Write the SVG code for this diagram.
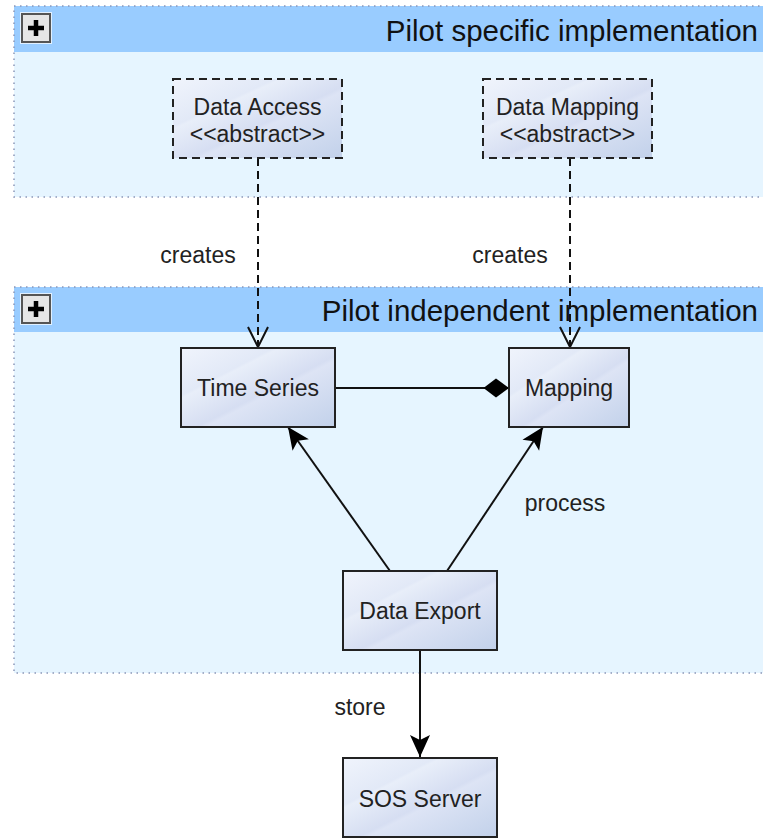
<svg xmlns="http://www.w3.org/2000/svg" width="763" height="838" viewBox="0 0 763 838">
  <style>
    .hdr { fill: #99ccff; }
    .body { fill: #e6f5ff; }
    .frame { fill: none; stroke: #8a96b8; stroke-width: 1.5; stroke-dasharray: 1.5 4.5; }
    .title { font-family: "Liberation Sans", Arial, sans-serif; font-size: 29.5px; fill: #111; text-anchor: end; }
    .box { fill: url(#nodeFill); stroke: #222; stroke-width: 2; }
    .abox { fill: url(#nodeFill); stroke: #222; stroke-width: 2; stroke-dasharray: 8 5; }
    .lbl { font-family: "Liberation Sans", Arial, sans-serif; font-size: 23px; fill: #222; text-anchor: middle; }
    .edge { fill: none; stroke: #111; stroke-width: 2; }
    .dash { fill: none; stroke: #111; stroke-width: 2; stroke-dasharray: 8 5; }
    .tog { fill: #e6e6e6; stroke: #555; stroke-width: 2; }
  </style>
  <defs>
    <linearGradient id="nodeFill" x1="0" y1="0" x2="1" y2="1">
      <stop offset="0" stop-color="#f0f4fc"/>
      <stop offset="0.3" stop-color="#e2e9f7"/>
      <stop offset="0.32" stop-color="#e8eef9"/>
      <stop offset="0.55" stop-color="#d6def2"/>
      <stop offset="0.58" stop-color="#dde4f5"/>
      <stop offset="1" stop-color="#c2d1ea"/>
    </linearGradient>
    <marker id="open" viewBox="0 0 24 24" refX="22" refY="12" markerWidth="24" markerHeight="24" markerUnits="userSpaceOnUse" orient="auto">
      <path d="M2,2 L22,12 L2,22" fill="none" stroke="#111" stroke-width="2"/>
    </marker>
    <marker id="solid" viewBox="0 0 24 22" refX="23" refY="11" markerWidth="24" markerHeight="22" markerUnits="userSpaceOnUse" orient="auto">
      <path d="M23,11 L1,1 L6,11 L1,21 Z" fill="#000"/>
    </marker>
    <marker id="diamond" viewBox="0 0 27 20" refX="26" refY="10" markerWidth="27" markerHeight="20" markerUnits="userSpaceOnUse" orient="auto">
      <path d="M0.5,10 L13,0.5 L26,10 L13,19.5 Z" fill="#000"/>
    </marker>
  </defs>

  <rect width="763" height="838" fill="#fff"/>

  <!-- Pilot specific package -->
  <g id="pkg-specific">
    <rect class="body" x="14" y="6" width="760" height="191"/>
    <rect class="hdr" x="14" y="6" width="760" height="46"/>
    <rect class="frame" x="14" y="6" width="760" height="191"/>
    <rect x="20" y="12" width="32" height="32" fill="#fff" opacity="0.7"/>
    <rect class="tog" x="22" y="14" width="28" height="28"/>
    <path d="M36,20 V36 M28,28 H44" stroke="#000" stroke-width="4.5"/>
    <text class="title" x="758" y="41">Pilot specific implementation</text>
  </g>

  <!-- Pilot independent package -->
  <g id="pkg-independent">
    <rect class="body" x="14" y="287" width="760" height="386"/>
    <rect class="hdr" x="14" y="287" width="760" height="45"/>
    <rect class="frame" x="14" y="287" width="760" height="386"/>
    <rect x="20" y="293" width="32" height="32" fill="#fff" opacity="0.7"/>
    <rect class="tog" x="22" y="295" width="28" height="28"/>
    <path d="M36,301 V317 M28,309 H44" stroke="#000" stroke-width="4.5"/>
    <text class="title" x="758" y="321">Pilot independent implementation</text>
  </g>

  <!-- Connectors -->
  <g id="connectors">
    <line class="dash" x1="258" y1="158" x2="258" y2="347" marker-end="url(#open)"/>
    <line class="dash" x1="570" y1="158" x2="570" y2="347" marker-end="url(#open)"/>
    <line class="edge" x1="335" y1="388" x2="509" y2="388" marker-end="url(#diamond)"/>
    <line class="edge" x1="390" y1="571" x2="288" y2="427" marker-end="url(#solid)"/>
    <line class="edge" x1="447" y1="571" x2="543" y2="427" marker-end="url(#solid)"/>
    <line class="edge" x1="420" y1="650" x2="420" y2="757" marker-end="url(#solid)"/>
    <text class="lbl" x="198" y="263">creates</text>
    <text class="lbl" x="510" y="263">creates</text>
    <text class="lbl" x="565" y="511">process</text>
    <text class="lbl" x="360" y="715">store</text>
  </g>

  <!-- Nodes -->
  <g id="data-access">
    <rect class="abox" x="173" y="79" width="169" height="79"/>
    <text class="lbl" x="257.5" y="115">Data Access</text>
    <text class="lbl" x="257.5" y="142">&lt;&lt;abstract&gt;&gt;</text>
  </g>
  <g id="data-mapping">
    <rect class="abox" x="483" y="79" width="169" height="79"/>
    <text class="lbl" x="567.5" y="115">Data Mapping</text>
    <text class="lbl" x="567.5" y="142">&lt;&lt;abstract&gt;&gt;</text>
  </g>
  <g id="time-series">
    <rect class="box" x="181" y="348" width="154" height="79"/>
    <text class="lbl" x="258" y="396">Time Series</text>
  </g>
  <g id="mapping">
    <rect class="box" x="509" y="348" width="120" height="79"/>
    <text class="lbl" x="569" y="396">Mapping</text>
  </g>
  <g id="data-export">
    <rect class="box" x="343" y="571" width="154" height="79"/>
    <text class="lbl" x="420" y="619">Data Export</text>
  </g>
  <g id="sos-server">
    <rect class="box" x="343" y="758" width="154" height="79"/>
    <text class="lbl" x="420" y="807">SOS Server</text>
  </g>
</svg>
